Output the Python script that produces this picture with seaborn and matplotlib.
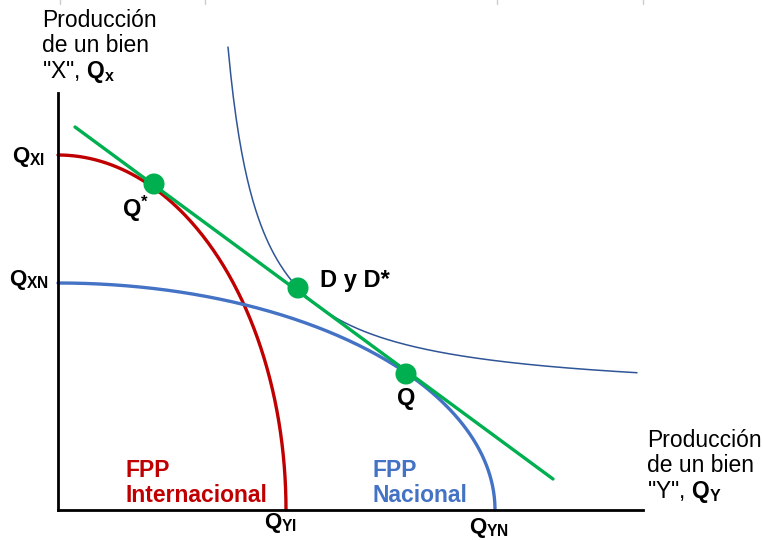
import numpy as np
import pandas as pd
import matplotlib
matplotlib.use("Agg")
import matplotlib.pyplot as plt
import seaborn as sns
from matplotlib.lines import Line2D

sns.set_theme(style="white")
plt.rcParams['font.family'] = ['Liberation Sans', 'DejaVu Sans']
plt.rcParams['text.color'] = 'black'
plt.rcParams['mathtext.fontset'] = 'custom'
plt.rcParams['mathtext.rm'] = 'Liberation Sans'
plt.rcParams['mathtext.bf'] = 'Liberation Sans:bold'
plt.rcParams['mathtext.it'] = 'Liberation Sans:italic'

# ---- data (diagram units) ----
red_ppf_intercepts = [228, 355]      # (Q_YI, Q_XI)
blue_ppf_intercepts = [437, 227]     # (Q_YN, Q_XN)
green_line_x = [17, 495]
green_line_y = [383, 31]
indiff_params = [138, 111.8, 11237]  # x0, y0, k
indiff_x_range = [170, 579]
point_labels = ["Q*", "D y D*", "Q"]
point_x = [96, 240, 348]
point_y = [326, 222, 136]

RED = "#C00000"
BLUE = "#4472C4"
GREEN = "#00B050"
DBLUE = "#2F5597"

fig = plt.figure(figsize=(7.63, 5.40), dpi=100)
ax = fig.add_axes([58/763, 30/540, 585/763, 417/540])

t = np.linspace(0, np.pi/2, 200)
red_df = pd.DataFrame({"x": red_ppf_intercepts[0]*np.sin(t), "y": red_ppf_intercepts[1]*np.cos(t)})
blue_df = pd.DataFrame({"x": blue_ppf_intercepts[0]*np.sin(t), "y": blue_ppf_intercepts[1]*np.cos(t)})
xs = np.linspace(indiff_x_range[0], indiff_x_range[1], 300)
ind_df = pd.DataFrame({"x": xs, "y": indiff_params[1] + indiff_params[2]/(xs-indiff_params[0])})
green_df = pd.DataFrame({"x": green_line_x, "y": green_line_y})
pts_df = pd.DataFrame({"x": point_x, "y": point_y, "label": point_labels})

sns.lineplot(data=ind_df, x="x", y="y", sort=False, color=DBLUE, linewidth=1.1, ax=ax)
sns.lineplot(data=red_df, x="x", y="y", sort=False, color=RED, linewidth=2.4, ax=ax)
sns.lineplot(data=blue_df, x="x", y="y", sort=False, color=BLUE, linewidth=2.4, ax=ax)
sns.lineplot(data=green_df, x="x", y="y", sort=False, color=GREEN, linewidth=2.4, ax=ax)
sns.scatterplot(data=pts_df, x="x", y="y", color=GREEN, s=230, edgecolor="none", zorder=5, ax=ax)
for ln in ax.lines:
    ln.set_clip_on(False)
for c in ax.collections:
    c.set_clip_on(False)

ax.set_xlim(0, 585)
ax.set_ylim(0, 417)
ax.set_xlabel("")
ax.set_ylabel("")
ax.set_xticks([])
ax.set_yticks([])
for s in ["top", "right"]:
    ax.spines[s].set_visible(False)
for s in ["left", "bottom"]:
    ax.spines[s].set_color("black")
    ax.spines[s].set_linewidth(2)
ax.patch.set_alpha(0)

def ftext(px, py, s, **kw):
    kw.setdefault("color", "black")
    fig.text(px/763, 1-py/540, s, **kw)

# point labels
ftext(122, 209, r"$\mathbf{Q}^{\mathbf{*}}$", fontsize=17, ha="left", va="center")
ftext(320, 281, point_labels[1], fontsize=17, fontweight="bold", ha="left", va="center")
ftext(397, 398, point_labels[2], fontsize=17, fontweight="bold", ha="left", va="center")

# axis intercept labels
ftext(12, 157, r"$\mathbf{Q}_{\mathbf{XI}}$", fontsize=16, ha="left", va="center")
ftext(9, 280, r"$\mathbf{Q}_{\mathbf{XN}}$", fontsize=16, ha="left", va="center")
ftext(264, 523, r"$\mathbf{Q}_{\mathbf{YI}}$", fontsize=16, ha="left", va="center")
ftext(469, 528, r"$\mathbf{Q}_{\mathbf{YN}}$", fontsize=16, ha="left", va="center")

ftext(42, 9, "Producción\nde un bien\n\"X\", " + r"$\mathbf{Q}_{\mathbf{x}}$", fontsize=16.5,
      ha="left", va="top", linespacing=1.12)
ftext(647, 429, "Producción\nde un bien\n\"Y\", " + r"$\mathbf{Q}_{\mathbf{Y}}$", fontsize=16.5,
      ha="left", va="top", linespacing=1.12)

ftext(125, 459, "FPP\nInternacional", fontsize=16.5, fontweight="bold", color=RED,
      ha="left", va="top", linespacing=1.1)
ftext(372, 459, "FPP\nNacional", fontsize=16.5, fontweight="bold", color=BLUE,
      ha="left", va="top", linespacing=1.1)

# faint top border stubs
for px in [60, 205, 497, 643]:
    fig.add_artist(Line2D([px/763, px/763], [1, 1-4/540], color="#cccccc", linewidth=1))

fig.savefig("out.png", dpi=100)
